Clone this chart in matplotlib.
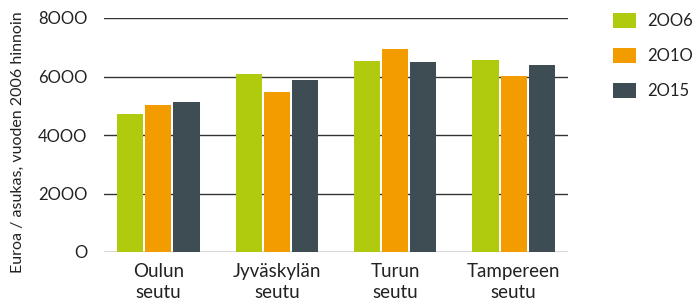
import matplotlib.pyplot as plt
import numpy as np

regions = ["Oulun\nseutu", "Jyväskylän\nseutu", "Turun\nseutu", "Tampereen\nseutu"]
years = ["2OO6", "2O1O", "2O15"]
v2006 = [4720, 6080, 6530, 6560]
v2010 = [5020, 5470, 6940, 6020]
v2015 = [5120, 5880, 6500, 6390]
colors = ["#b0ca0e", "#f39c00", "#3e4c54"]

plt.rcParams['font.family'] = ['Lato', 'DejaVu Sans']

fig = plt.figure(figsize=(6.97, 3.05), dpi=100)
ax = fig.add_axes([104/697, 1-252/305, (568-104)/697, (252-18)/305])

x = np.arange(len(regions))
w = 0.22
step = 0.237
handles = []
for i, (vals, c) in enumerate(zip([v2006, v2010, v2015], colors)):
    b = ax.bar(x + (i-1)*step, vals, width=w, color=c, zorder=3)
    handles.append(b)

ax.set_xlim(-0.46, 3.46)
ax.set_ylim(0, 8000)
ax.set_yticks([0, 2000, 4000, 6000, 8000])
ax.set_yticklabels(["O", "2OOO", "4OOO", "6OOO", "8OOO"])
ax.set_xticks(x)
ax.set_xticklabels(regions, linespacing=1.3)
ax.yaxis.grid(True, color="#333333", lw=1, zorder=0)
ax.set_axisbelow(True)
for s in ax.spines.values():
    s.set_visible(False)
ax.tick_params(axis='y', length=0, pad=12, labelsize=12, labelcolor="#222222")
ax.tick_params(axis='x', length=0, pad=8, labelsize=13.5, labelcolor="#222222")

fig.text(18/697, 1-142/305, "Euroa / asukas, vuoden 2006 hinnoin", rotation=90,
         ha='center', va='center', fontsize=11.5, color="#222222")

fig.legend(handles, years, loc='upper left', bbox_to_anchor=(613/697, 1-13/305),
           frameon=False, fontsize=12, handlelength=1.38, handleheight=1.0,
           labelspacing=1.12, handletextpad=0.66, borderpad=0, borderaxespad=0,
           labelcolor="#222222")

fig.savefig("out.png", dpi=100)
